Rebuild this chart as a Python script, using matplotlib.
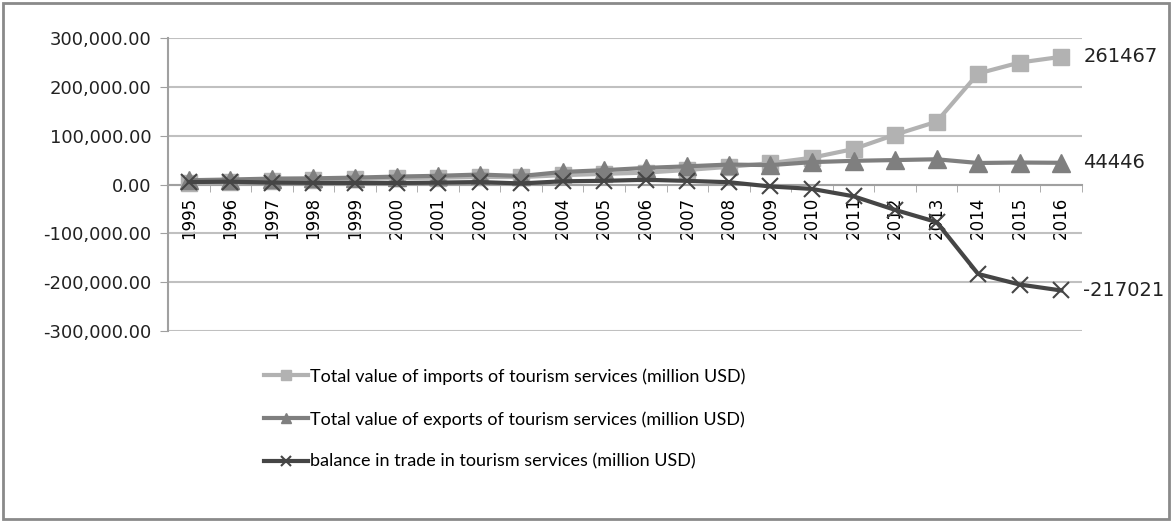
import matplotlib.pyplot as plt
import numpy as np
from matplotlib.patches import Rectangle

years = [str(y) for y in range(1995, 2017)]
imports = [3688, 4474, 8130, 9205, 10864, 13114, 13909, 15398, 15187, 19149, 21759,
           24322, 29786, 36157, 43702, 54880, 72585, 101977, 128576, 227300, 249800, 261467]
exports = [8733, 10200, 12074, 12602, 14098, 16224, 17792, 20385, 17406, 25739, 29296,
           33949, 37233, 40843, 39675, 45814, 48464, 50028, 51664, 44044, 45000, 44446]
balance = [5045, 5726, 3944, 3397, 3234, 3110, 3883, 4987, 2219, 6590, 7537,
           9627, 7447, 4686, -4027, -9066, -24121, -51949, -76912, -183256, -204800, -217021]
labels = ["Total value of imports of tourism services (million USD)",
          "Total value of exports of tourism services (million USD)",
          "balance in trade in tourism services (million USD)"]
yticks = [-300000, -200000, -100000, 0, 100000, 200000, 300000]

fig = plt.figure(figsize=(11.73, 5.22), dpi=100)
ax = fig.add_axes([168/1173, 1-331/522, (1082-168)/1173, (331-38)/522])

# spine position first, it resets tick settings
for s in ["top", "right"]:
    ax.spines[s].set_visible(False)
ax.spines["bottom"].set_position(("data", 0))
ax.spines["bottom"].set_color("#a0a0a0")
ax.spines["bottom"].set_linewidth(1.5)
ax.spines["left"].set_color("#a0a0a0")
ax.spines["left"].set_linewidth(1.5)

x = np.arange(len(years))
ax.plot(x, imports, color="#b2b2b2", lw=3, marker="s", ms=12, label=labels[0], zorder=3)
ax.plot(x, exports, color="#7f7f7f", lw=3, marker="^", ms=13, label=labels[1], zorder=4)
ax.plot(x, balance, color="#454545", lw=3, marker="x", ms=12, mew=1.5, label=labels[2], zorder=5)

ax.set_xlim(-0.5, len(years) - 0.5)
ax.set_ylim(-300000, 300000)
ax.set_yticks(yticks)
ax.set_yticklabels(["{:,.2f}".format(v) for v in yticks], fontsize=13, color="#222222")
ax.grid(axis="y", color="#c0c0c0", lw=1.5)
ax.set_axisbelow(True)

ax.set_xticks(x)
ax.set_xticklabels(years, fontsize=12)
ax.set_xticks(np.arange(-0.5, len(years)), minor=True)
ax.tick_params(axis="x", which="major", length=0, pad=9, labelrotation=90)
ax.tick_params(axis="x", which="minor", length=5, color="#a0a0a0", direction="out")
ax.tick_params(axis="y", length=6, color="#a0a0a0", pad=6)

for series in [imports, exports, balance]:
    ax.annotate(str(series[-1]), xy=(x[-1], series[-1]), xytext=(16, 0),
                textcoords="offset points", va="center", ha="left", fontsize=14,
                color="#222222", annotation_clip=False)

handles, labs = ax.get_legend_handles_labels()
leg = fig.legend(handles, labs, loc="upper left", bbox_to_anchor=(248/1173, 1-352/522),
                 frameon=False, prop={"family": "Lato", "size": 13},
                 handlelength=2.4, handletextpad=0.15, labelspacing=1.45, markerscale=0.6)

fig.patches.append(Rectangle((3/1173, 3/522), 1166/1173, 516/522, transform=fig.transFigure,
                             fill=False, edgecolor="#8a8a8a", lw=2))

plt.savefig("out.png", dpi=100)
